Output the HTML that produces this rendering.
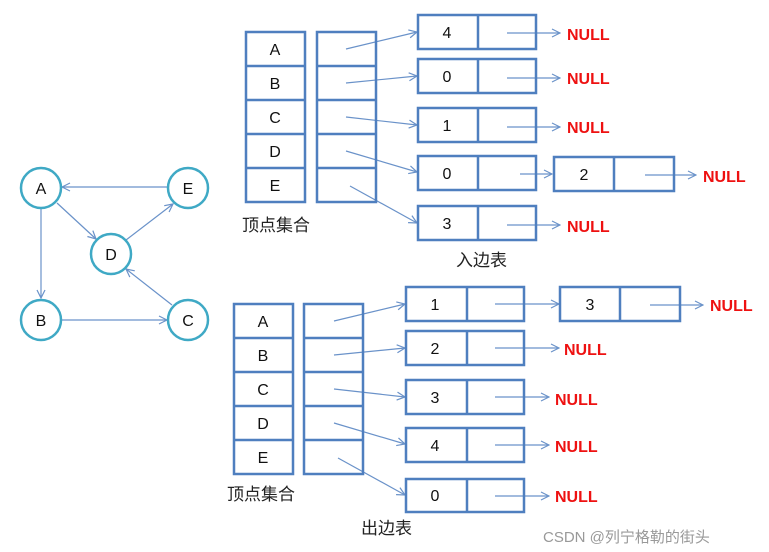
<!DOCTYPE html>
<html><head><meta charset="utf-8"><style>
html,body{margin:0;padding:0;background:#fff;}
svg{display:block;}
text{font-family:"Liberation Sans","Noto Sans CJK SC",sans-serif;}
</style></head><body>
<svg width="769" height="552" viewBox="0 0 769 552" xmlns="http://www.w3.org/2000/svg">
<defs>
<marker id="ar" markerWidth="10" markerHeight="10" refX="9" refY="5" orient="auto" markerUnits="userSpaceOnUse">
<path d="M1,1 L9,5 L1,9" fill="none" stroke="#6a92c9" stroke-width="1.2"/>
</marker>
</defs>
<g stroke="#6a92c9" stroke-width="1.2" fill="none" marker-end="url(#ar)">
<!-- graph -->
<line x1="168" y1="187" x2="62" y2="187"/>
<line x1="41" y1="209" x2="41" y2="298"/>
<line x1="61" y1="320" x2="167" y2="320"/>
<line x1="57" y1="203" x2="96" y2="239"/>
<line x1="126" y1="240" x2="173" y2="204"/>
<line x1="172" y1="305" x2="126" y2="269"/>
<!-- top pointers -->
<line x1="346" y1="49" x2="417" y2="32"/>
<line x1="346" y1="83" x2="417" y2="76"/>
<line x1="346" y1="117" x2="417" y2="125"/>
<line x1="346" y1="151" x2="417" y2="172"/>
<line x1="350" y1="186" x2="417" y2="223"/>
<line x1="507" y1="33" x2="560" y2="33"/>
<line x1="507" y1="78" x2="560" y2="78"/>
<line x1="507" y1="127" x2="560" y2="127"/>
<line x1="520" y1="174" x2="552" y2="174"/>
<line x1="645" y1="175" x2="696" y2="175"/>
<line x1="507" y1="225" x2="560" y2="225"/>
<!-- bottom pointers -->
<line x1="334" y1="321" x2="405" y2="304"/>
<line x1="334" y1="355" x2="405" y2="348"/>
<line x1="334" y1="389" x2="405" y2="397"/>
<line x1="334" y1="423" x2="405" y2="444"/>
<line x1="338" y1="458" x2="405" y2="495"/>
<line x1="495" y1="304" x2="559" y2="304"/>
<line x1="495" y1="348" x2="559" y2="348"/>
<line x1="495" y1="397" x2="549" y2="397"/>
<line x1="495" y1="445" x2="549" y2="445"/>
<line x1="495" y1="496" x2="549" y2="496"/>
<line x1="650" y1="305" x2="703" y2="305"/>
</g>
<g fill="#fff" stroke="#3fa9c5" stroke-width="2.5">
<circle cx="41" cy="188" r="20"/><circle cx="188" cy="188" r="20"/>
<circle cx="111" cy="254" r="20"/><circle cx="41" cy="320" r="20"/><circle cx="188" cy="320" r="20"/>
</g>
<g font-size="16" fill="#111" text-anchor="middle">
<text x="41" y="194">A</text><text x="188" y="194">E</text><text x="111" y="260">D</text>
<text x="41" y="326">B</text><text x="188" y="326">C</text>
</g>
<g fill="none" stroke="#4f7fbf" stroke-width="2.5">
<!-- top -->
<rect x="246" y="32" width="59" height="170"/>
<line x1="246" y1="66" x2="305" y2="66"/><line x1="246" y1="100" x2="305" y2="100"/><line x1="246" y1="134" x2="305" y2="134"/><line x1="246" y1="168" x2="305" y2="168"/>
<rect x="317" y="32" width="59" height="170"/>
<line x1="317" y1="66" x2="376" y2="66"/><line x1="317" y1="100" x2="376" y2="100"/><line x1="317" y1="134" x2="376" y2="134"/><line x1="317" y1="168" x2="376" y2="168"/>
<rect x="418" y="15" width="118" height="34"/><line x1="478" y1="15" x2="478" y2="49"/>
<rect x="418" y="59" width="118" height="34"/><line x1="478" y1="59" x2="478" y2="93"/>
<rect x="418" y="108" width="118" height="34"/><line x1="478" y1="108" x2="478" y2="142"/>
<rect x="418" y="156" width="118" height="34"/><line x1="478" y1="156" x2="478" y2="190"/>
<rect x="418" y="206" width="118" height="34"/><line x1="478" y1="206" x2="478" y2="240"/>
<rect x="554" y="157" width="120" height="34"/><line x1="614" y1="157" x2="614" y2="191"/>
<!-- bottom -->
<rect x="234" y="304" width="59" height="170"/>
<line x1="234" y1="338" x2="293" y2="338"/><line x1="234" y1="372" x2="293" y2="372"/><line x1="234" y1="406" x2="293" y2="406"/><line x1="234" y1="440" x2="293" y2="440"/>
<rect x="304" y="304" width="59" height="170"/>
<line x1="304" y1="338" x2="363" y2="338"/><line x1="304" y1="372" x2="363" y2="372"/><line x1="304" y1="406" x2="363" y2="406"/><line x1="304" y1="440" x2="363" y2="440"/>
<rect x="406" y="287" width="118" height="34"/><line x1="467" y1="287" x2="467" y2="321"/>
<rect x="406" y="331" width="118" height="34"/><line x1="467" y1="331" x2="467" y2="365"/>
<rect x="406" y="380" width="118" height="34"/><line x1="467" y1="380" x2="467" y2="414"/>
<rect x="406" y="428" width="118" height="34"/><line x1="467" y1="428" x2="467" y2="462"/>
<rect x="406" y="479" width="118" height="33"/><line x1="467" y1="479" x2="467" y2="512"/>
<rect x="560" y="287" width="120" height="34"/><line x1="620" y1="287" x2="620" y2="321"/>
</g>
<g font-size="16" fill="#111" text-anchor="middle">
<text x="275" y="55">A</text><text x="275" y="89">B</text><text x="275" y="123">C</text><text x="275" y="157">D</text><text x="275" y="191">E</text>
<text x="447" y="38">4</text><text x="447" y="82">0</text><text x="447" y="131">1</text><text x="447" y="179">0</text><text x="447" y="229">3</text><text x="584" y="180">2</text>
<text x="263" y="327">A</text><text x="263" y="361">B</text><text x="263" y="395">C</text><text x="263" y="429">D</text><text x="263" y="463">E</text>
<text x="435" y="310">1</text><text x="435" y="354">2</text><text x="435" y="403">3</text><text x="435" y="451">4</text><text x="435" y="501">0</text><text x="590" y="310">3</text>
</g>
<g font-size="16" font-weight="bold" fill="#ee1111">
<text x="567" y="40">NULL</text><text x="567" y="84">NULL</text><text x="567" y="133">NULL</text>
<text x="703" y="182">NULL</text><text x="567" y="232">NULL</text>
<text x="710" y="311">NULL</text><text x="564" y="355">NULL</text><text x="555" y="405">NULL</text>
<text x="555" y="452">NULL</text><text x="555" y="502">NULL</text>
</g>
<g font-size="17" fill="#222">
<text x="242" y="231">顶点集合</text>
<text x="456" y="266">入边表</text>
<text x="227" y="500">顶点集合</text>
<text x="361" y="534">出边表</text>
</g>
<text x="543" y="542" font-size="15" fill="#999">CSDN @列宁格勒的街头</text>
</svg>
</body></html>
